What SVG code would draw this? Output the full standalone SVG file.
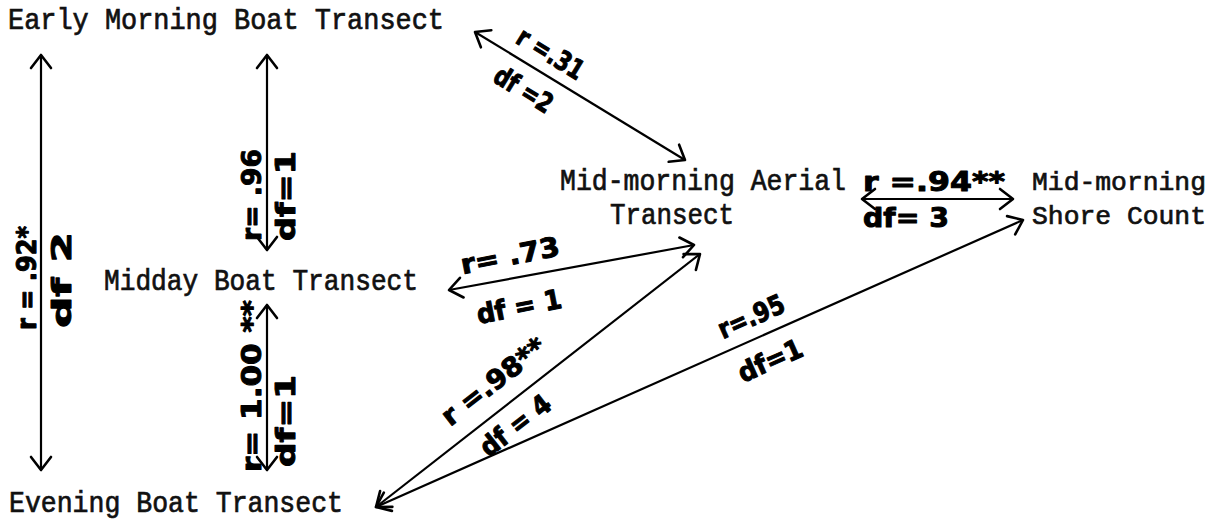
<svg xmlns="http://www.w3.org/2000/svg" width="1220" height="521" viewBox="0 0 1220 521">
<style>
.node{font-family:"Liberation Mono","DejaVu Sans Mono",monospace;font-size:29px;fill:#111;stroke:#111;stroke-width:0.7}
.node.sm{font-size:26.5px}
.lbl{font-family:"DejaVu Sans","Liberation Sans",sans-serif;font-weight:bold;font-size:27px;fill:#000;stroke:#000;stroke-width:1;stroke-linejoin:round;text-anchor:middle}
.ln{fill:none;stroke:#000;stroke-width:2.2;marker-start:url(#ah);marker-end:url(#ah)}
</style>
<defs>
<marker id="ah" viewBox="-16 -13 18 26" markerWidth="18" markerHeight="26" refX="0" refY="0" orient="auto-start-reverse" markerUnits="userSpaceOnUse">
<path d="M-13,-10 L0,0 L-13,10" fill="none" stroke="#000" stroke-width="2.6" stroke-linecap="round" stroke-linejoin="round"/>
</marker>
</defs>
<rect width="1220" height="521" fill="#fff"/>
<g id="n-early"><text class="node" x="8" y="29" textLength="436" lengthAdjust="spacingAndGlyphs">Early Morning Boat Transect</text></g>
<g id="n-aerial"><text class="node" x="560" y="190" textLength="286" lengthAdjust="spacingAndGlyphs">Mid-morning Aerial</text><text class="node" x="610" y="224" textLength="124" lengthAdjust="spacingAndGlyphs">Transect</text></g>
<g id="n-shore"><text class="node sm" x="1032" y="190" textLength="174" lengthAdjust="spacingAndGlyphs">Mid-morning</text><text class="node sm" x="1032" y="224" textLength="174" lengthAdjust="spacingAndGlyphs">Shore Count</text></g>
<g id="n-midday"><text class="node" x="104" y="290" textLength="314" lengthAdjust="spacingAndGlyphs">Midday Boat Transect</text></g>
<g id="n-evening"><text class="node" x="9" y="512" textLength="334" lengthAdjust="spacingAndGlyphs">Evening Boat Transect</text></g>
<g id="connectors">
<line class="ln" x1="41" y1="55" x2="41" y2="470"/>
<line class="ln" x1="267" y1="55" x2="267" y2="250"/>
<line class="ln" x1="267" y1="305" x2="267" y2="470"/>
<line class="ln" x1="475" y1="32" x2="685" y2="160"/>
<line class="ln" x1="449" y1="290" x2="694" y2="245"/>
<line class="ln" x1="376" y1="507" x2="700" y2="254"/>
<line class="ln" x1="376" y1="507" x2="1023" y2="220"/>
<line class="ln" x1="862" y1="199" x2="1013" y2="199"/>
</g>
<g id="labels">
<text class="lbl" transform="translate(26,278) rotate(-90)" y="10" textLength="104" lengthAdjust="spacingAndGlyphs">r = .92*</text>
<text class="lbl" transform="translate(61,280) rotate(-90)" y="10" textLength="96" lengthAdjust="spacingAndGlyphs">df  2</text>
<text class="lbl" transform="translate(251,195) rotate(-90)" y="10" textLength="92" lengthAdjust="spacingAndGlyphs">r= .96</text>
<text class="lbl" transform="translate(285,196) rotate(-90)" y="10" textLength="90" lengthAdjust="spacingAndGlyphs">df=1</text>
<text class="lbl" transform="translate(251,386) rotate(-90)" y="10" textLength="172" lengthAdjust="spacingAndGlyphs">r= 1.00 **</text>
<text class="lbl" transform="translate(285,421) rotate(-90)" y="10" textLength="92" lengthAdjust="spacingAndGlyphs">df=1</text>
<text class="lbl" transform="translate(551,53) rotate(31.5)" y="10" textLength="74" lengthAdjust="spacingAndGlyphs">r =.31</text>
<text class="lbl" transform="translate(524,89) rotate(31.5)" y="10" textLength="64" lengthAdjust="spacingAndGlyphs">df =2</text>
<text class="lbl" transform="translate(510,255) rotate(-11)" y="10" textLength="100" lengthAdjust="spacingAndGlyphs">r= .73</text>
<text class="lbl" transform="translate(519,306) rotate(-11)" y="10" textLength="86" lengthAdjust="spacingAndGlyphs">df = 1</text>
<text class="lbl" transform="translate(493,381) rotate(-38)" y="10" textLength="124" lengthAdjust="spacingAndGlyphs">r =.98**</text>
<text class="lbl" transform="translate(515,425) rotate(-38)" y="10" textLength="82" lengthAdjust="spacingAndGlyphs">df = 4</text>
<text class="lbl" transform="translate(751,316) rotate(-24)" y="10" textLength="70" lengthAdjust="spacingAndGlyphs">r=.95</text>
<text class="lbl" transform="translate(770,360) rotate(-24)" y="10" textLength="68" lengthAdjust="spacingAndGlyphs">df=1</text>
<text class="lbl" transform="translate(934,181)" y="10" textLength="142" lengthAdjust="spacingAndGlyphs">r =.94**</text>
<text class="lbl" transform="translate(906,217)" y="10" textLength="86" lengthAdjust="spacingAndGlyphs">df= 3</text>
</g>
</svg>
